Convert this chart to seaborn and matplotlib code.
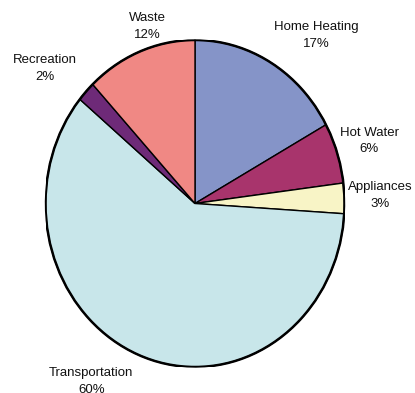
import matplotlib
matplotlib.use("Agg")
import matplotlib.pyplot as plt
import matplotlib.patches as mpatches
import seaborn as sns

categories = ["Home Heating", "Hot Water", "Appliances", "Transportation", "Recreation", "Waste"]
values = [17, 6, 3, 60, 2, 12]
colors = ["#8594C8", "#A8346C", "#F8F4C6", "#C8E6EA", "#6E2A78", "#F08884"]
label_pos = [(0.813, 1.028), (1.167, 0.382), (1.24, 0.05), (-0.693, -1.09), (-1.007, 0.825), (-0.32, 1.083)]

sns.set_theme(style="white")
plt.rcParams['font.family'] = ['Liberation Sans', 'DejaVu Sans']

fig = plt.figure(figsize=(4.15, 3.93), dpi=100)
ax = fig.add_axes([45.5 / 415, 26 / 393, 299 / 415, 327 / 393])
wedges, _ = ax.pie(values, colors=colors, startangle=90, counterclock=False,
                   radius=1, center=(0, 0),
                   wedgeprops=dict(edgecolor="black", linewidth=1.0))
ax.set_aspect('auto')
ax.set_xlim(-1, 1)
ax.set_ylim(-1, 1)
ax.axis('off')

rim = mpatches.Circle((0, 0), 1, fill=False, edgecolor="black", linewidth=1.8)
ax.add_patch(rim)

for cat, v, (x, y) in zip(categories, values, label_pos):
    ax.text(x, y, f"{cat}\n{v}%", ha="center", va="center", fontsize=9.5,
            color="#111111", linespacing=1.5, clip_on=False)

fig.savefig("out.png", dpi=100, facecolor="white")
